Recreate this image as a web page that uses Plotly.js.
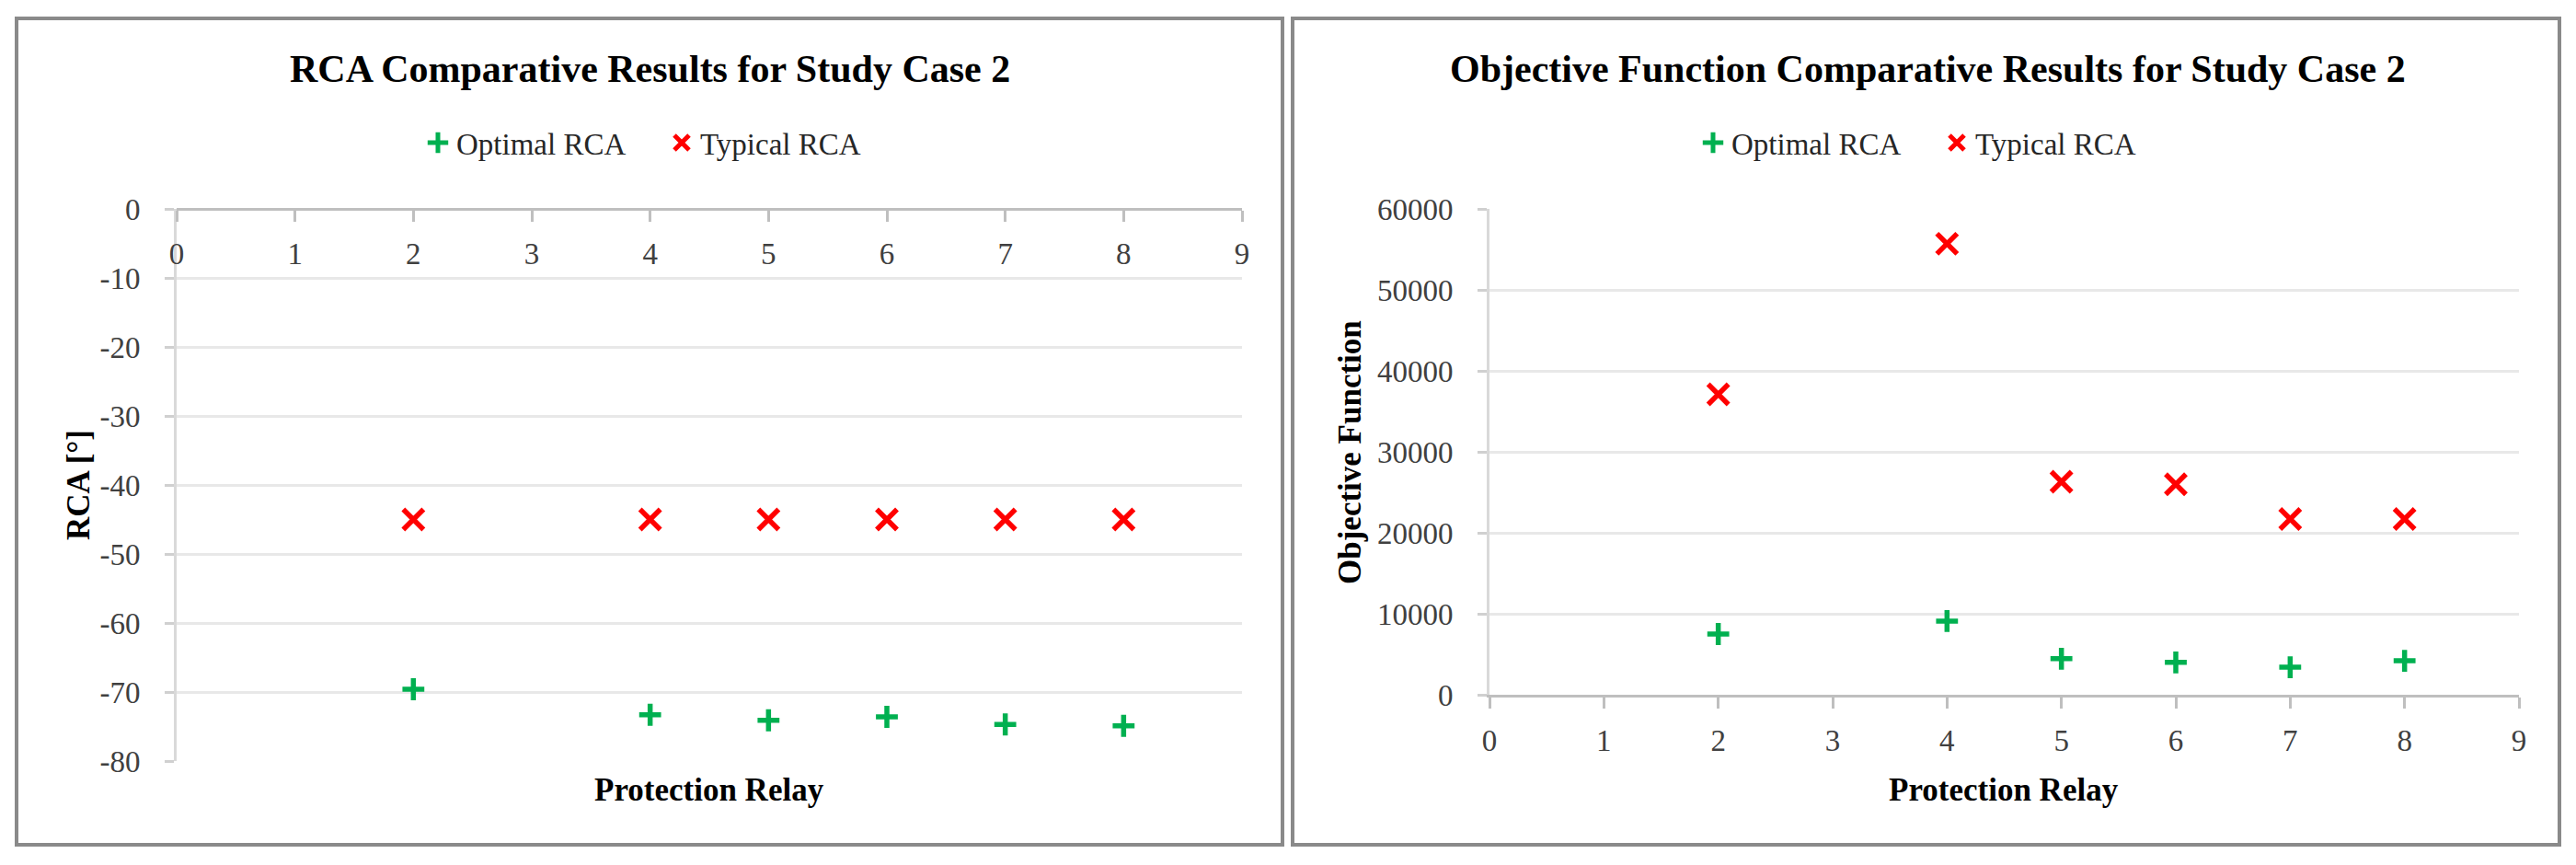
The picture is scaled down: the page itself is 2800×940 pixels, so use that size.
<!DOCTYPE html>
<html>
<head>
<meta charset="utf-8">
<script src="https://cdn.plot.ly/plotly-3.0.1.min.js"></script>
<style>html,body{margin:0;padding:0;background:#fff;}#chart{width:2800px;height:940px;}</style>
</head>
<body>
<div id="chart"></div>
<script>
// ---- data ----
const relays = [2, 4, 5, 6, 7, 8];
const rcaOptimal = [-69.6, -73.3, -74.1, -73.6, -74.7, -74.9];
const rcaTypical = [-45, -45, -45, -45, -45, -45];
const objOptimal = [7500, 9100, 4450, 4000, 3400, 4200];
const objTypical = [37100, 55700, 26300, 26000, 21700, 21700];
const xTicks = [0, 1, 2, 3, 4, 5, 6, 7, 8, 9];
const rcaTicks = [0, -10, -20, -30, -40, -50, -60, -70, -80];
const rcaTickLabels = ['0', '-10', '-20', '-30', '-40', '-50', '-60', '-70', '-80'];
const objTicks = [0, 10000, 20000, 30000, 40000, 50000, 60000];
const objTickLabels = ['0', '10000', '20000', '30000', '40000', '50000', '60000'];
const seriesNames = ['Optimal RCA', 'Typical RCA'];
const leftTitle = 'RCA Comparative Results for Study Case 2';
const rightTitle = 'Objective Function Comparative Results for Study Case 2';
const xTitle = 'Protection Relay';
const leftYTitle = 'RCA [°]';
const rightYTitle = 'Objective Function';

const W = 2800, H = 940;
const px = v => v / W;
const py = v => 1 - v / H;
const FONT = '"Liberation Serif", "Times New Roman", serif';
const GREEN = '#00b050', RED = '#ff0000';

function optTrace(x, y, xa, ya, lg) {
  return {x: x, y: y, type: 'scatter', mode: 'markers', name: seriesNames[0],
    xaxis: xa, yaxis: ya, legend: lg,
    marker: {symbol: 'cross-thin', size: 17, color: GREEN, line: {color: GREEN, width: 5.5}}};
}
function typTrace(x, y, xa, ya, lg) {
  return {x: x, y: y, type: 'scatter', mode: 'markers', name: seriesNames[1],
    xaxis: xa, yaxis: ya, legend: lg,
    marker: {symbol: 'x-thin', size: 22, color: RED, line: {color: RED, width: 5.5}}};
}

const data = [
  optTrace(relays, rcaOptimal, 'x', 'y', 'legend'),
  typTrace(relays, rcaTypical, 'x', 'y', 'legend'),
  optTrace(relays, objOptimal, 'x2', 'y2', 'legend2'),
  typTrace(relays, objTypical, 'x2', 'y2', 'legend2')
];

const tickFont = {family: FONT, size: 33, color: '#404040'};
const xCommon = {
  range: [0, 9], tickvals: xTicks, ticktext: xTicks.map(String),
  showgrid: false, zeroline: false, showline: true, linecolor: '#bfbfbf', linewidth: 3,
  ticks: 'outside', ticklen: 12, tickwidth: 3, tickcolor: '#bfbfbf',
  tickfont: tickFont, ticklabelstandoff: 6, fixedrange: true
};
const yCommon = {
  showgrid: true, gridcolor: '#e8e8e8', gridwidth: 3, zeroline: false,
  showline: true, linecolor: '#d9d9d9', linewidth: 3,
  ticks: 'outside', ticklen: 10, tickwidth: 3, tickcolor: '#d0d0d0',
  tickfont: tickFont, ticklabelstandoff: 20, fixedrange: true
};

const legendCommon = {
  orientation: 'h', xanchor: 'left', yanchor: 'middle', y: py(155),
  font: {family: FONT, size: 33, color: '#262626'}, bgcolor: 'rgba(0,0,0,0)',
  entrywidth: 220, entrywidthmode: 'pixels'
};

const layout = {
  width: W, height: H, margin: {l: 0, r: 0, t: 0, b: 0},
  paper_bgcolor: '#fff', plot_bgcolor: '#fff', showlegend: true,
  xaxis: Object.assign({}, xCommon, {domain: [px(192), px(1350)], anchor: 'free', position: py(227), side: 'bottom'}),
  yaxis: Object.assign({}, yCommon, {domain: [py(827), py(227)], range: [-80, 0], tickvals: rcaTicks, ticktext: rcaTickLabels, anchor: 'x'}),
  xaxis2: Object.assign({}, xCommon, {domain: [px(1619), px(2738)], anchor: 'y2'}),
  yaxis2: Object.assign({}, yCommon, {domain: [py(755), py(227)], range: [0, 60000], tickvals: objTicks, ticktext: objTickLabels, anchor: 'x2'}),
  legend: Object.assign({}, legendCommon, {x: px(456)}),
  legend2: Object.assign({}, legendCommon, {x: px(1842)}),
  shapes: [
    {type: 'rect', xref: 'paper', yref: 'paper', x0: px(18), x1: px(1394), y0: py(918), y1: py(20),
      line: {color: '#8a8a8a', width: 4}, layer: 'above'},
    {type: 'rect', xref: 'paper', yref: 'paper', x0: px(1405), x1: px(2782), y0: py(918), y1: py(20),
      line: {color: '#8a8a8a', width: 4}, layer: 'above'}
  ],
  annotations: [
    {text: '<b>' + leftTitle + '</b>', xref: 'paper', yref: 'paper', x: px(706), y: py(75),
      xanchor: 'center', yanchor: 'middle', showarrow: false, font: {family: FONT, size: 42, color: '#000'}},
    {text: '<b>' + rightTitle + '</b>', xref: 'paper', yref: 'paper', x: px(2095), y: py(75),
      xanchor: 'center', yanchor: 'middle', showarrow: false, font: {family: FONT, size: 42, color: '#000'}},
    {text: '<b>' + xTitle + '</b>', xref: 'paper', yref: 'paper', x: px(771), y: py(858),
      xanchor: 'center', yanchor: 'middle', showarrow: false, font: {family: FONT, size: 35, color: '#000'}},
    {text: '<b>' + xTitle + '</b>', xref: 'paper', yref: 'paper', x: px(2178), y: py(858),
      xanchor: 'center', yanchor: 'middle', showarrow: false, font: {family: FONT, size: 35, color: '#000'}},
    {text: '<b>' + leftYTitle + '</b>', xref: 'paper', yref: 'paper', x: px(85), y: py(527), textangle: -90,
      xanchor: 'center', yanchor: 'middle', showarrow: false, font: {family: FONT, size: 35, color: '#000'}},
    {text: '<b>' + rightYTitle + '</b>', xref: 'paper', yref: 'paper', x: px(1468), y: py(491), textangle: -90,
      xanchor: 'center', yanchor: 'middle', showarrow: false, font: {family: FONT, size: 35, color: '#000'}}
  ]
};

Plotly.newPlot('chart', data, layout, {staticPlot: true, displayModeBar: false});
</script>
</body>
</html>
